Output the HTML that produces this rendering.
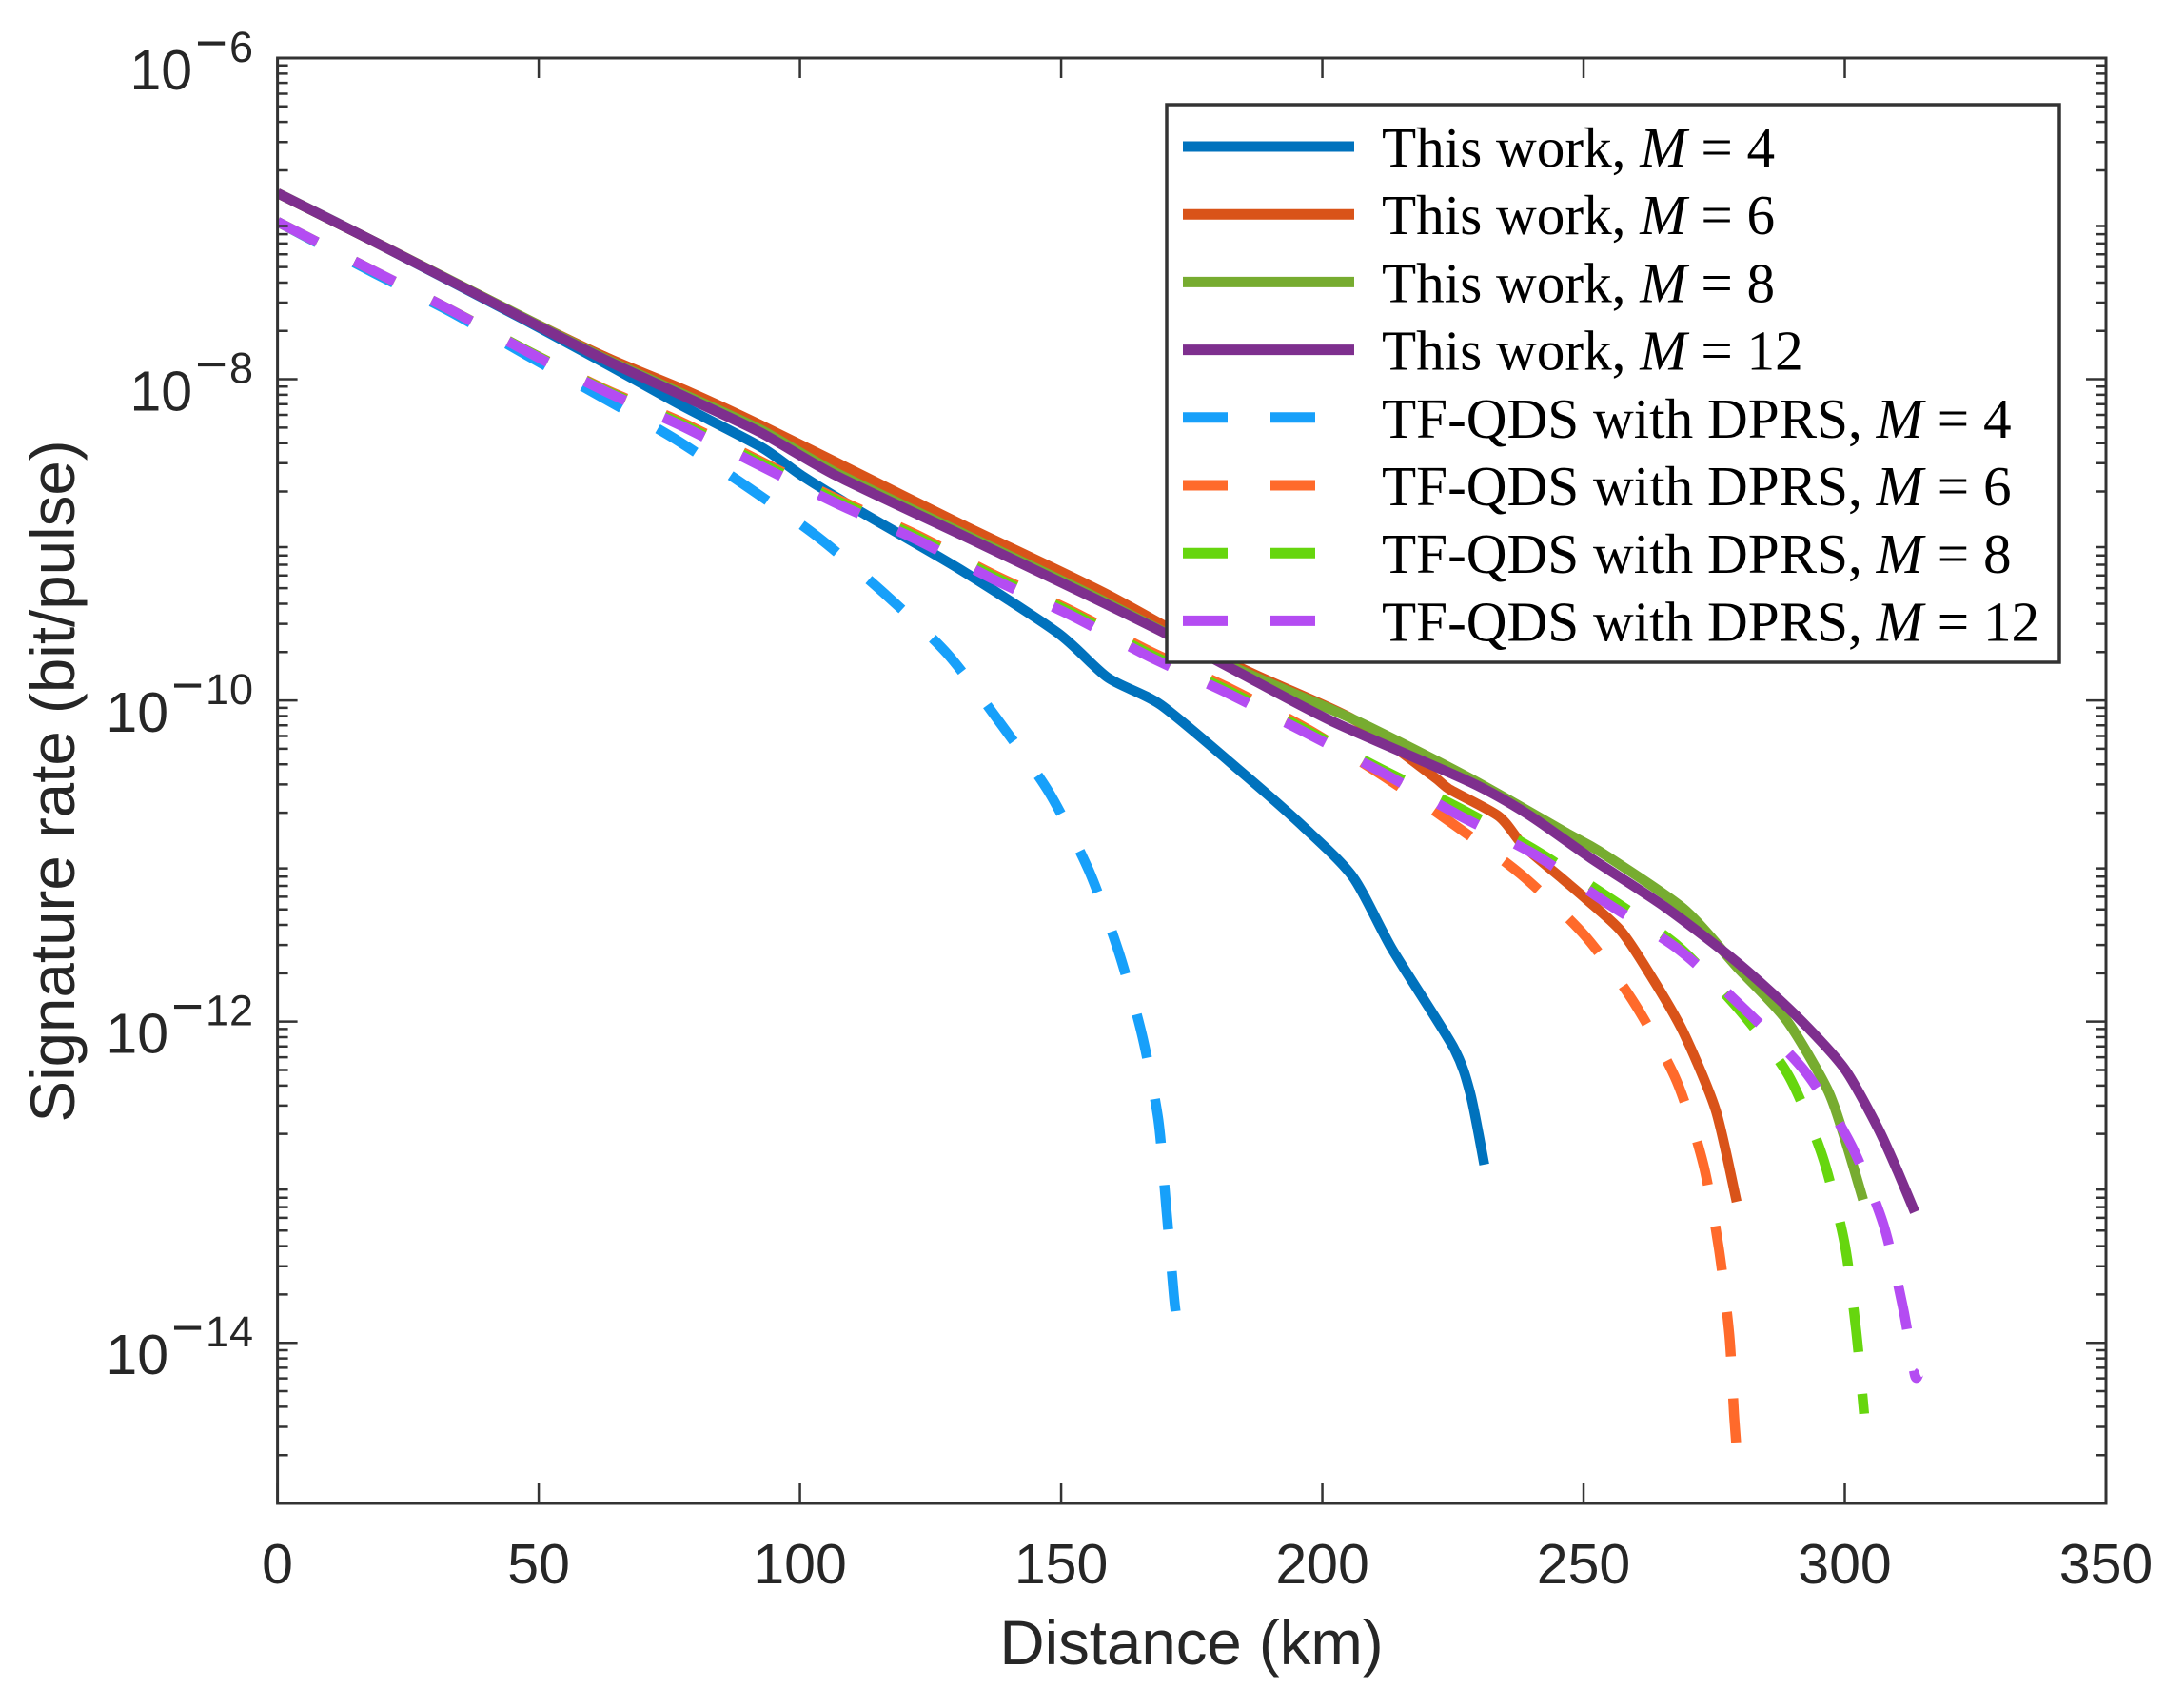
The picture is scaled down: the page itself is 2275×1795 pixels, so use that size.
<!DOCTYPE html>
<html lang="en">
<head>
<meta charset="utf-8">
<title>Signature rate vs distance</title>
<style>
  html, body { margin: 0; padding: 0; background: #fff; }
  svg { display: block; }
  .sans { font-family: "Liberation Sans", Arial, sans-serif; fill: #262626; }
  .serif { font-family: "Liberation Serif", "Times New Roman", serif; fill: #000; }
</style>
</head>
<body>
<svg id="chart" xmlns="http://www.w3.org/2000/svg" width="2275" height="1795" viewBox="0 0 2275 1795"></svg>
<script>
// x tick values and labels
const xTicks = [0, 50, 100, 150, 200, 250, 300, 350];
// y tick exponents (log10 of the rate)
const yTickExponents = [-6, -8, -10, -12, -14];

// Distances in km and log10(signature rate) for each series
const solidM4Km = [0,18.5,47.2,63.1,76.9,92.6,100.4,111.7,130.5,149.3,158.9,169.1,184.2,196.6,205.9,213.4,225,228.3,231];
const solidM4Log = [-6.841,-7.143,-7.629,-7.908,-8.156,-8.423,-8.601,-8.826,-9.181,-9.578,-9.857,-10.028,-10.437,-10.793,-11.101,-11.551,-12.155,-12.445,-12.890];

const solidM6Km = [0,18.5,47.2,63.1,78.8,92.6,107,130.5,158.9,183.7,205.9,221,224.5,233.8,238.5,246,250.5,257.1,262.7,269.1,275.3,279.3];
const solidM6Log = [-6.841,-7.143,-7.617,-7.866,-8.079,-8.287,-8.518,-8.897,-9.341,-9.786,-10.117,-10.467,-10.556,-10.722,-10.905,-11.112,-11.237,-11.433,-11.705,-12.066,-12.552,-13.121];

const solidM8Km = [0,18.5,47.2,63.1,78.8,92.6,107,131.2,155.6,183.7,205.9,228.3,246.9,253.4,269.1,279.3,288.8,296.6,299.9,303.5];
const solidM8Log = [-6.841,-7.143,-7.617,-7.878,-8.109,-8.316,-8.583,-8.960,-9.340,-9.803,-10.117,-10.485,-10.828,-10.947,-11.296,-11.658,-11.989,-12.416,-12.718,-13.109];

const solidM12Km = [0,18.5,47.2,63.1,78.8,92.6,107,131.2,155.6,170.4,183.7,202.2,228.3,239.4,251.4,265.5,279.3,290.6,299.9,306.3,310.1,313.4];
const solidM12Log = [-6.841,-7.143,-7.623,-7.884,-8.121,-8.334,-8.601,-8.974,-9.353,-9.590,-9.820,-10.135,-10.508,-10.710,-10.982,-11.284,-11.628,-11.960,-12.291,-12.659,-12.931,-13.186];

const dashedM4Km = [0,18.5,32.9,47.6,62.6,76,90.3,103.6,116.2,128.2,138.2,147.7,155.3,161,165.5,168.6,170.1,171.5,171.9];
const dashedM4Log = [-7.019,-7.339,-7.576,-7.848,-8.121,-8.370,-8.678,-8.986,-9.335,-9.709,-10.135,-10.573,-11.059,-11.563,-12.084,-12.611,-13.150,-13.678,-13.803];

const dashedM6Km = [0,18.5,32.9,47.6,62.6,77.5,92.6,107,122.3,137.1,152,166.8,181.7,196.8,211.5,225,238,250.2,259.8,267.8,272.9,275.9,277.9,278.8,279.2];
const dashedM6Log = [-7.019,-7.327,-7.564,-7.819,-8.061,-8.269,-8.512,-8.743,-8.968,-9.216,-9.442,-9.691,-9.916,-10.171,-10.467,-10.769,-11.083,-11.462,-11.889,-12.368,-12.884,-13.412,-13.951,-14.441,-14.620];

const dashedM8Km = [0,18.5,32.9,47.6,62.6,77.5,92.6,107,122.3,137.1,152,166.8,181.7,196.8,211.5,226.5,240.9,255.3,268.2,279.9,289.2,295.7,299.9,302.1,303.7];
const dashedM8Log = [-7.019,-7.327,-7.564,-7.819,-8.067,-8.281,-8.524,-8.755,-8.980,-9.228,-9.454,-9.709,-9.934,-10.183,-10.431,-10.675,-10.935,-11.237,-11.533,-11.931,-12.333,-12.836,-13.372,-13.899,-14.441];

const dashedM12Km = [0,18.5,32.9,47.6,62.6,77.5,92.6,107,122.3,137.1,152,166.8,181.7,196.8,211.5,225.9,240.9,254.7,268.2,280.7,292.4,301.2,307.4,311.2,313.4,314.2];
const dashedM12Log = [-7.019,-7.327,-7.564,-7.825,-8.073,-8.293,-8.542,-8.773,-8.998,-9.246,-9.472,-9.726,-9.952,-10.201,-10.449,-10.711,-10.964,-11.267,-11.551,-11.919,-12.310,-12.766,-13.263,-13.790,-14.199,-14.186];

const legendLabels = ['This work, ', 'This work, ', 'This work, ', 'This work, ', 'TF-QDS with DPRS, ', 'TF-QDS with DPRS, ', 'TF-QDS with DPRS, ', 'TF-QDS with DPRS, '];
const legendM = [4, 6, 8, 12, 4, 6, 8, 12];

const seriesKm = [solidM4Km, solidM6Km, solidM8Km, solidM12Km, dashedM4Km, dashedM6Km, dashedM8Km, dashedM12Km];
const seriesLog = [solidM4Log, solidM6Log, solidM8Log, solidM12Log, dashedM4Log, dashedM6Log, dashedM8Log, dashedM12Log];
const seriesColors = ['#0072BD', '#D95319', '#77AC30', '#7E2F8E', '#17A0FA', '#FF6A2B', '#66D60E', '#B44CF2'];

// Plot geometry
const plotLeft = 291.6, plotRight = 2213, plotTop = 61, plotBottom = 1580;
const xMax = 350, logTop = -6, logBottom = -15;
const lineWidth = 10.5, dashOn = 47, dashOff = 44;

function xScale(km) { return plotLeft + (km / xMax) * (plotRight - plotLeft); }
function yScale(logValue) { return plotTop + ((logTop - logValue) / (logTop - logBottom)) * (plotBottom - plotTop); }

// Smooth path through the scaled points (Catmull-Rom with reduced tension)
function smoothPath(pts) {
  const k = 1 / 8;
  let d = 'M' + pts[0][0].toFixed(1) + ' ' + pts[0][1].toFixed(1);
  for (let i = 0; i < pts.length - 1; i++) {
    const p0 = pts[Math.max(i - 1, 0)], p1 = pts[i], p2 = pts[i + 1], p3 = pts[Math.min(i + 2, pts.length - 1)];
    const c1x = p1[0] + (p2[0] - p0[0]) * k, c1y = p1[1] + (p2[1] - p0[1]) * k;
    const c2x = p2[0] - (p3[0] - p1[0]) * k, c2y = p2[1] - (p3[1] - p1[1]) * k;
    d += 'C' + c1x.toFixed(1) + ' ' + c1y.toFixed(1) + ' ' + c2x.toFixed(1) + ' ' + c2y.toFixed(1) + ' ' + p2[0].toFixed(1) + ' ' + p2[1].toFixed(1);
  }
  return d;
}

const NS = 'http://www.w3.org/2000/svg';
const svg = document.getElementById('chart');
function make(tag, attrs, parent) {
  const node = document.createElementNS(NS, tag);
  for (const k in attrs) node.setAttribute(k, attrs[k]);
  parent.appendChild(node);
  return node;
}

// clip for the series
const defs = make('defs', {}, svg);
const clip = make('clipPath', { id: 'plot-clip' }, defs);
make('rect', { x: plotLeft, y: plotTop, width: plotRight - plotLeft, height: plotBottom - plotTop }, clip);

// series
const seriesLayer = make('g', { 'clip-path': 'url(#plot-clip)' }, svg);


seriesKm.forEach(function (kms, i) {
  const logs = seriesLog[i];
  const pts = kms.map(function (km, j) { return [xScale(km), yScale(logs[j])]; });
  const attrs = { d: smoothPath(pts), fill: 'none', stroke: seriesColors[i], 'stroke-width': lineWidth, 'stroke-linejoin': 'round', 'stroke-linecap': 'butt' };
  if (i >= 4) attrs['stroke-dasharray'] = dashOn + ' ' + dashOff;
  const path = make('path', attrs, seriesLayer);
  
  
});

// axes box and ticks
const axisColor = '#333333';
const axes = make('g', { stroke: axisColor, fill: 'none' }, svg);


const box = make('rect', { x: plotLeft, y: plotTop, width: plotRight - plotLeft, height: plotBottom - plotTop, 'stroke-width': 3 }, axes);



xTicks.forEach(function (t) {
  const x = xScale(t);
  const tb = make('path', { d: 'M' + x + ' ' + plotBottom + 'V' + (plotBottom - 21) + 'M' + x + ' ' + plotTop + 'V' + (plotTop + 21), 'stroke-width': 2.5 }, axes);
  
  
  const label = make('text', { x: x, y: 1664, 'text-anchor': 'middle', 'font-size': 59, class: 'sans', stroke: 'none' }, svg);
  
  
  label.textContent = String(t);
});

// y ticks: minor at every 2..9 of every decade, major at labelled decades
for (let decade = logBottom; decade < logTop; decade++) {
  for (let m = 2; m <= 9; m++) {
    const y = yScale(decade + Math.log10(m));
    const minor = make('path', { d: 'M' + plotLeft + ' ' + y + 'h11M' + plotRight + ' ' + y + 'h-11', 'stroke-width': 2.5 }, axes);
    
    
  }
}
yTickExponents.forEach(function (e) {
  const y = yScale(e);
  const major = make('path', { d: 'M' + plotLeft + ' ' + y + 'h21M' + plotRight + ' ' + y + 'h-21', 'stroke-width': 2.5 }, axes);
  
  
  const label = make('text', { x: 266, y: y + 33, 'text-anchor': 'end', class: 'sans', stroke: 'none' }, svg);
  
  
  const base = make('tspan', { 'font-size': 59 }, label);
  base.textContent = '10';
  const minus = make('tspan', { 'font-size': 58, dx: 3, dy: -29 }, label);
  minus.textContent = '\u2212';
  const power = make('tspan', { 'font-size': 45, dx: 2 }, label);
  power.textContent = String(Math.abs(e));
});

// axis titles
const xTitle = make('text', { x: 1252, y: 1749, 'text-anchor': 'middle', 'font-size': 65.4, class: 'sans' }, svg);


xTitle.textContent = 'Distance (km)';

const yTitle = make('text', { x: 0, y: 0, 'text-anchor': 'middle', 'font-size': 65.5, class: 'sans', transform: 'translate(78 821) rotate(-90)' }, svg);


yTitle.textContent = 'Signature rate (bit/pulse)';

// legend
const legend = make('g', {}, svg);


const legendBox = make('rect', { x: 1226, y: 110, width: 938, height: 586, fill: '#fff', stroke: axisColor, 'stroke-width': 3.5 }, legend);


legendLabels.forEach(function (text, i) {
  const rowY = 154 + i * 71.2;
  const entry = make('g', {}, legend);
  
  
  const sample = make('path', { d: 'M1243 ' + rowY + 'H1423', stroke: seriesColors[i], 'stroke-width': 11, fill: 'none' }, entry);
  if (i >= 4) sample.setAttribute('stroke-dasharray', '47 45');
  
  
  const label = make('text', { x: 1452, y: rowY + 21, 'font-size': 59.2, class: 'serif' }, entry);
  
  
  const a = make('tspan', {}, label);
  a.textContent = text;
  const b = make('tspan', { 'font-style': 'italic' }, label);
  b.textContent = 'M';
  const c = make('tspan', {}, label);
  c.textContent = ' = ' + legendM[i];
});
</script>
</body>
</html>
